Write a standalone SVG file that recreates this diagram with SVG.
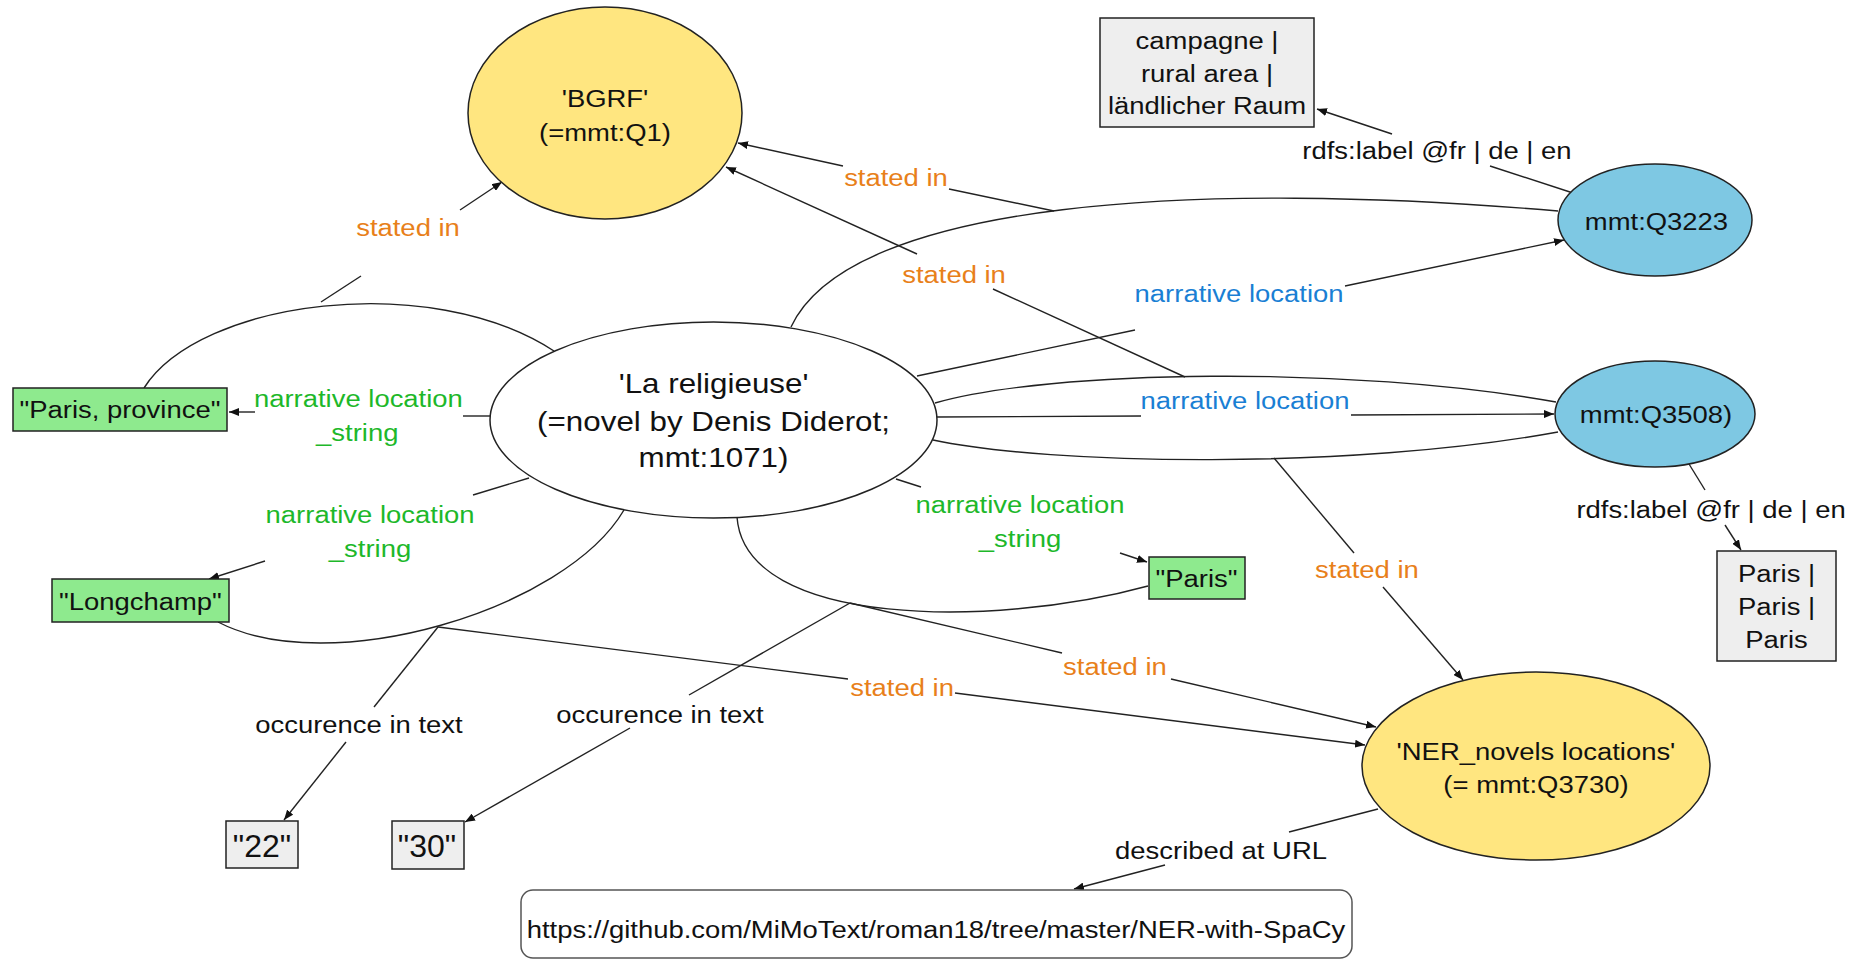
<svg xmlns="http://www.w3.org/2000/svg" width="1856" height="960" viewBox="0 0 1856 960">
<style>
text{font-family:"Liberation Sans",Arial,sans-serif;font-size:24.5px;text-anchor:middle;fill:#111}
.big{font-size:28px}
.num{font-size:32px}
.or{fill:#E8801A}
.gr{fill:#1DB82A}
.bl{fill:#1A7FD4}
.node{stroke:#222;stroke-width:1.5}
.yel{fill:#FFE680}
.blu{fill:#7EC8E3}
.grn{fill:#8EEA8E}
.gry{fill:#EEEEEE}
.e{fill:none;stroke:#222;stroke-width:1.4}
.a{marker-end:url(#arr)}
</style>
<defs>
<marker id="arr" markerUnits="userSpaceOnUse" markerWidth="11" markerHeight="8" refX="10" refY="4" orient="auto">
<path d="M0,0 L10,4 L0,8 z" fill="#111"/>
</marker>
</defs>
<rect width="1856" height="960" fill="#fff"/>

<g id="connectors">
<!-- central -> Paris, province -->
<path class="e" d="M490,416 L463,416"/>
<path class="e a" d="M255,412 L229,412"/>
<!-- statement arc Paris, province -->
<path class="e" d="M144,388 C200,300 430,270 554,351"/>
<path class="e" d="M321,302 L361,276"/>
<path class="e a" d="M460,210 L502,182"/>
<!-- central -> Longchamp -->
<path class="e" d="M529,478 L473,495"/>
<path class="e a" d="M265,561 L209,579"/>
<!-- statement arc Longchamp -->
<path class="e" d="M624,510 C565,610 330,680 218,622"/>
<path class="e" d="M438,627 L374,707"/>
<path class="e a" d="M346,742 L284,820"/>
<path class="e" d="M438,627 L848,679"/>
<path class="e a" d="M955,693 L1365,745"/>
<!-- central -> Paris -->
<path class="e" d="M896,479 L921,487"/>
<path class="e a" d="M1120,553 L1147,562"/>
<!-- statement arc Paris -->
<path class="e" d="M737,517 C745,628 995,628 1148,586"/>
<path class="e" d="M850,603 L689,695"/>
<path class="e a" d="M630,728 L465,822"/>
<path class="e" d="M850,603 L1062,653"/>
<path class="e a" d="M1171,679 L1376,727"/>
<!-- statement arc Q3223 -->
<path class="e" d="M791,327 C850,200 1200,180 1558,211"/>
<path class="e" d="M1054,211 L949,189"/>
<path class="e a" d="M843,166 L738,143"/>
<!-- central -> Q3223 -->
<path class="e" d="M917,376 L1135,330"/>
<path class="e a" d="M1345,286 L1564,240"/>
<!-- statement arcs Q3508 -->
<path class="e" d="M935,403 C1050,370 1350,365 1556,402"/>
<path class="e" d="M1185,377 L993,289"/>
<path class="e a" d="M917,254 L726,167"/>
<path class="e" d="M937,417 L1141,416"/>
<path class="e a" d="M1351,415 L1554,414"/>
<path class="e" d="M933,440 C1050,465 1350,470 1558,432"/>
<path class="e" d="M1274,458 L1354,553"/>
<path class="e a" d="M1383,587 L1463,680"/>
<!-- rdfs:label -->
<path class="e" d="M1573,193 L1490,166"/>
<path class="e a" d="M1392,134 L1317,109"/>
<path class="e" d="M1689,464 L1705,490"/>
<path class="e a" d="M1725,525 L1741,550"/>
<!-- described at URL -->
<path class="e" d="M1378,809 L1289,832"/>
<path class="e a" d="M1165,865 L1074,889"/>

<g id="edge-labels">
<text class="or" transform="scale(1.12 1)" x="364.3" y="236">stated in</text>
<text class="gr" transform="scale(1.12 1)" x="320" y="407">narrative location</text>
<text class="gr" transform="scale(1.12 1)" x="319" y="441">_string</text>
<text class="gr" transform="scale(1.12 1)" x="330.4" y="523">narrative location</text>
<text class="gr" transform="scale(1.12 1)" x="330.4" y="557">_string</text>
<text class="gr" transform="scale(1.12 1)" x="910.7" y="513">narrative location</text>
<text class="gr" transform="scale(1.12 1)" x="910.7" y="547">_string</text>
<text class="or" transform="scale(1.12 1)" x="800" y="186">stated in</text>
<text class="or" transform="scale(1.12 1)" x="851.8" y="283">stated in</text>
<text class="bl" transform="scale(1.12 1)" x="1106.3" y="302">narrative location</text>
<text class="bl" transform="scale(1.12 1)" x="1111.6" y="409">narrative location</text>
<text transform="scale(1.12 1)" x="1283" y="159">rdfs:label @fr | de | en</text>
<text transform="scale(1.12 1)" x="1527.7" y="518">rdfs:label @fr | de | en</text>
<text class="or" transform="scale(1.12 1)" x="1220.5" y="578">stated in</text>
<text class="or" transform="scale(1.12 1)" x="995.5" y="675">stated in</text>
<text class="or" transform="scale(1.12 1)" x="805.4" y="696">stated in</text>
<text transform="scale(1.12 1)" x="320.5" y="733">occurence in text</text>
<text transform="scale(1.12 1)" x="589.3" y="723">occurence in text</text>
<text transform="scale(1.12 1)" x="1090.2" y="859">described at URL</text>
</g>
</g>

<g id="bgrf">
<ellipse class="node yel" cx="605" cy="113" rx="137" ry="106"/>
<text transform="scale(1.12 1)" x="540.2" y="107">'BGRF'</text>
<text transform="scale(1.12 1)" x="540.2" y="141">(=mmt:Q1)</text>
</g>

<g id="la-religieuse">
<ellipse class="node" fill="#fff" cx="713.5" cy="420" rx="223.5" ry="98"/>
<text class="big" transform="scale(1.12 1)" x="637.1" y="393">'La religieuse'</text>
<text class="big" transform="scale(1.12 1)" x="637.1" y="431">(=novel by Denis Diderot;</text>
<text class="big" transform="scale(1.12 1)" x="637.1" y="467">mmt:1071)</text>
</g>

<g id="q3223">
<ellipse class="node blu" cx="1655" cy="220" rx="97" ry="56"/>
<text transform="scale(1.12 1)" x="1479" y="230">mmt:Q3223</text>
</g>

<g id="q3508">
<ellipse class="node blu" cx="1655" cy="414" rx="100" ry="53"/>
<text transform="scale(1.12 1)" x="1478.6" y="423">mmt:Q3508)</text>
</g>

<g id="campagne">
<rect class="node gry" x="1100" y="18" width="214" height="109"/>
<text transform="scale(1.12 1)" x="1077.7" y="49">campagne |</text>
<text transform="scale(1.12 1)" x="1077.7" y="82">rural area |</text>
<text transform="scale(1.12 1)" x="1077.7" y="114">ländlicher Raum</text>
</g>

<g id="paris-province">
<rect class="node grn" x="13" y="388" width="214" height="43"/>
<text transform="scale(1.12 1)" x="107.1" y="418">"Paris, province"</text>
</g>

<g id="longchamp">
<rect class="node grn" x="52" y="579" width="177" height="43"/>
<text transform="scale(1.12 1)" x="125.4" y="610">"Longchamp"</text>
</g>

<g id="paris">
<rect class="node grn" x="1149" y="557" width="96" height="42"/>
<text transform="scale(1.12 1)" x="1068.3" y="587">"Paris"</text>
</g>

<g id="paris-labels">
<rect class="node gry" x="1717" y="551" width="119" height="110"/>
<text transform="scale(1.12 1)" x="1586.2" y="582">Paris |</text>
<text transform="scale(1.12 1)" x="1586.2" y="615">Paris |</text>
<text transform="scale(1.12 1)" x="1586.2" y="648">Paris</text>
</g>

<g id="ner">
<ellipse class="node yel" cx="1536" cy="766" rx="174" ry="94"/>
<text transform="scale(1.12 1)" x="1371.4" y="760">'NER_novels locations'</text>
<text transform="scale(1.12 1)" x="1371.4" y="793">(= mmt:Q3730)</text>
</g>

<g id="v22">
<rect class="node gry" x="226" y="821" width="72" height="47"/>
<text class="num" x="262" y="857">"22"</text>
</g>

<g id="v30">
<rect class="node gry" x="392" y="821" width="72" height="48"/>
<text class="num" x="427" y="857">"30"</text>
</g>

<g id="url">
<rect x="521" y="890" width="831" height="68" rx="12" fill="#fff" stroke="#555" stroke-width="1.5"/>
<text transform="scale(1.12 1)" x="835.7" y="938">https://github.com/MiMoText/roman18/tree/master/NER-with-SpaCy</text>
</g>
</svg>
